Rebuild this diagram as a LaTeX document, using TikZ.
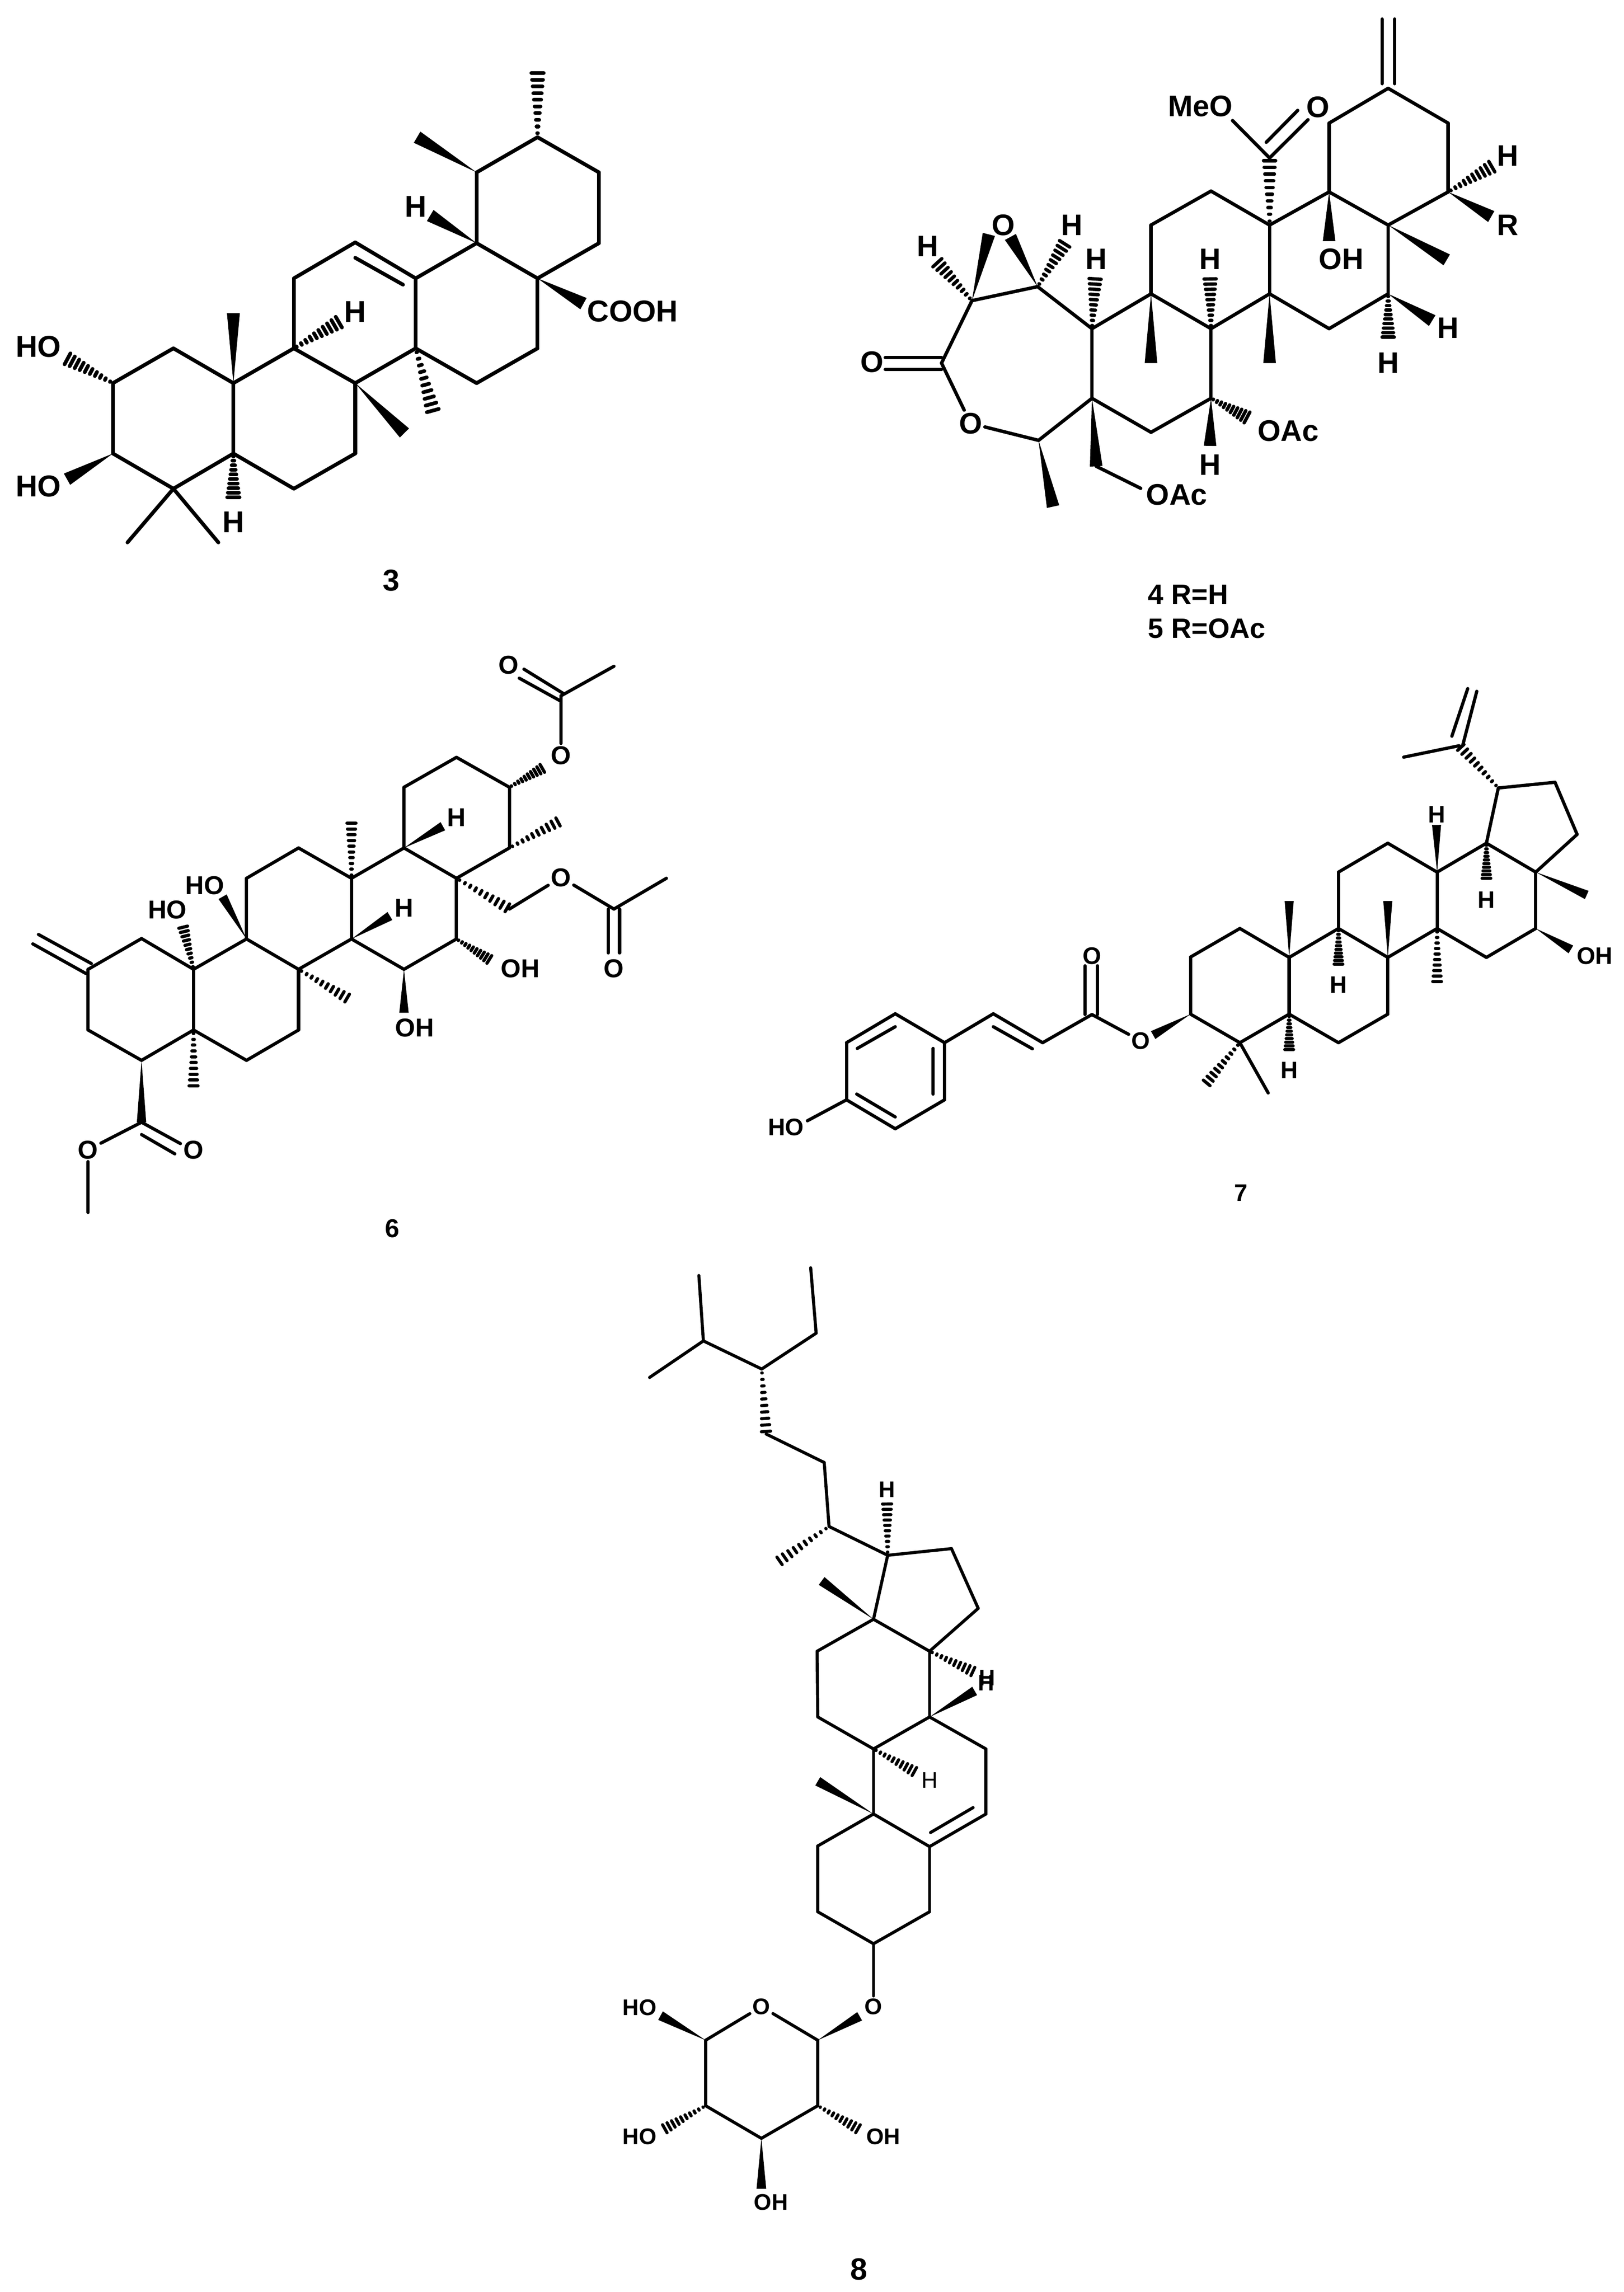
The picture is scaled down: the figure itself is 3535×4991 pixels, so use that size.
\documentclass[tikz,border=0pt]{standalone}
\usepackage{fontspec}
\setmainfont{Liberation Sans}
\usetikzlibrary{calc}
\tikzset{
  wedgew/.store in=\wedgew, wedgew=4pt,
  bond/.style={line cap=round, line join=round},
  wedgebond/.style={to path={-- ($(\tikztotarget)!\wedgew!90:(\tikztostart)$) -- ($(\tikztotarget)!\wedgew!-90:(\tikztostart)$) -- cycle}},
  hashbond/.style={line cap=round, to path={\foreach \hp in {0.06,0.16,...,0.97} {($(\tikztostart)!\hp!(\tikztotarget)!{\hp*\wedgew}!90:(\tikztotarget)$) -- ($(\tikztostart)!\hp!(\tikztotarget)!{\hp*\wedgew}!-90:(\tikztotarget)$)}}},
  atomlabel/.style={inner sep=1.5pt, font=\bfseries},
  atomthree/.style={atomlabel, font=\fontsize{18.7}{20}\selectfont\bfseries},
  atomfour/.style={atomlabel, font=\fontsize{18.4}{20}\selectfont\bfseries},
  atomsix/.style={atomlabel, font=\fontsize{16}{18}\selectfont\bfseries},
  atomseven/.style={atomlabel, font=\fontsize{14.8}{16}\selectfont\bfseries},
  atomeight/.style={atomlabel, font=\fontsize{14}{16}\selectfont\bfseries}
}
\begin{document}
\begin{tikzpicture}[x=0.01cm, y=-0.01cm]
  \useasboundingbox (0,0) rectangle (3535,4991);

  % compound 3
  \begin{scope}[xscale=1.0204, yscale=0.8610]
    \foreach \n/\x/\y in {a1/1147/347, a2/1278/436, a3/1278/615, a4/1147/704, a5/1017/615, a6/1017/436,
      a7/1147/881, a8/1017/969, a9/887/881, a10/887/704, a11/758/613, a12/627/704, a13/627/881,
      a14/758/969, a15/758/1147, a16/627/1236, a17/498/1147, a18/498/969, a19/370/881, a20/241/969,
      a21/241/1147, a22/370/1236, a23/272/1372, a24/466/1372, a25/758/652, a26/860/720,
      t1/890/347, t2/918/545, t3/1245/768, t4/498/792, t5/863/1095, t6/143/1212,
      t7/1147/178, t8/727/812, t9/925/1045, t10/498/1262, t11/140/905}
      \coordinate (\n) at (\x,\y);
    \node[atomthree] (ah1) at (887,522) {H};
    \node[atomthree] (ah2) at (758,788) {H};
    \node[atomthree] (acooh) at (1350,787) {COOH};
    \node[atomthree] (aho1) at (82,877) {HO};
    \node[atomthree] (aho2) at (82,1230) {HO};
    \node[atomthree] (ah3) at (498,1320) {H};
    \node[atomthree] (atitle) at (835,1468) {3};
  \end{scope}
  \begin{scope}[line width=2.3pt, wedgew=4pt]
    \foreach \a/\b in {a1/a2, a2/a3, a3/a4, a4/a5, a5/a6, a6/a1, a4/a7, a7/a8, a8/a9, a9/a10, a10/a5,
      a10/a11, a25/a26, a11/a12, a12/a13, a13/a14, a14/a9, a14/a15, a15/a16, a16/a17, a17/a18, a18/a13,
      a18/a19, a19/a20, a20/a21, a21/a22, a22/a17, a22/a23, a22/a24}
      \draw[bond] (\a) -- (\b);
    \foreach \a/\b in {a6/t1, a5/t2, a4/t3, a18/t4, a14/t5, a21/t6}
      \fill[wedgebond] (\a) to (\b);
    \foreach \a/\b in {a1/t7, a13/t8, a9/t9, a17/t10, a20/t11}
      \draw[hashbond] (\a) to (\b);
  \end{scope}

  % compound 4 and 5
  \begin{scope}[shift={(1800,0)}, xscale=1.0204, yscale=0.9247]
    \foreach \n/\x/\y in {b1/1198/208, b2/1326/290, b3/1326/452, b4/1198/530, b5/1072/452, b6/1072/290,
      b7/1198/692, b8/1072/774, b9/945/692, b10/945/530, b11/820/450, b12/692/530, b13/692/692,
      b14/820/774, b15/820/938, b16/692/1018, b17/566/938, b18/566/774, b19/450/675, b20/310/708,
      b21/245/855, b22/452/1037, b23/945/372, b24/575/1098, b25/1185/45, b26/1185/197, b27/1212/45,
      b28/1212/197, b29/125/842, b30/245/842, b31/125/870, b32/245/870, b33/1027/282, b34/938/335,
      b35/1005/260, b36/866/284, b37/670/1150,
      u1/346/552, u2/392/558, u3/233/615, u4/510/570, u5/573/652, u6/818/652, u7/692/855, u8/945/855,
      u9/1072/568, u10/1323/612, u11/1423/390, u12/1418/510, u13/1292/755, u14/1198/798, u15/900/985,
      u16/818/1050, u17/483/1193}
      \coordinate (\n) at (\x,\y);
    \node[atomfour] (bo1) at (377,530) {O};
    \node[atomfour] (bo2) at (97,852) {O};
    \node[atomfour] (bo3) at (307,997) {O};
    \node[atomfour] (bo4) at (1048,252) {O};
    \node[atomfour] (bmeo) at (797,250) {MeO};
    \node[atomfour] (boh) at (1098,610) {OH};
    \node[atomfour] (bh1) at (215,580) {H};
    \node[atomfour] (bh2) at (523,530) {H};
    \node[atomfour] (bh3) at (575,610) {H};
    \node[atomfour] (bh4) at (818,610) {H};
    \node[atomfour] (bh5) at (1453,367) {H};
    \node[atomfour] (br) at (1453,530) {R};
    \node[atomfour] (bh6) at (1326,772) {H};
    \node[atomfour] (bh7) at (1198,855) {H};
    \node[atomfour] (bh8) at (818,1095) {H};
    \node[atomfour] (boac1) at (985,1015) {OAc};
    \node[atomfour] (boac2) at (747,1165) {OAc};
    \node[atomfour, font=\fontsize{17.3}{19}\selectfont\bfseries, anchor=west] (btitle1) at (680,1400) {4 R=H};
    \node[atomfour, font=\fontsize{17.3}{19}\selectfont\bfseries, anchor=west] (btitle2) at (680,1480) {5 R=OAc};
  \end{scope}
  \begin{scope}[line width=2.1pt, wedgew=3.9pt]
    \foreach \a/\b in {b1/b2, b2/b3, b3/b4, b4/b5, b5/b6, b6/b1, b4/b7, b7/b8, b8/b9, b9/b10, b10/b5,
      b10/b11, b11/b12, b12/b13, b13/b14, b14/b9, b14/b15, b15/b16, b16/b17, b17/b18, b18/b13,
      b18/b19, b19/b20, b20/b21, b21/bo3, bo3/b22, b22/b17, b25/b26, b27/b28, b29/b30, b31/b32,
      b23/b33, b34/b35, b23/b36, b24/b37}
      \draw[bond] (\a) -- (\b);
    \foreach \a/\b in {b20/u1, b19/u2, b13/u7, b9/u8, b5/u9, b4/u10, b3/u12, b7/u13, b15/u16, b17/b24, b22/u17}
      \fill[wedgebond] (\a) to (\b);
    \foreach \a/\b in {b20/u3, b19/u4, b18/u5, b14/u6, b10/b23, b3/u11, b7/u14, b15/u15}
      \draw[hashbond] (\a) to (\b);
  \end{scope}

  % compound 6
  \begin{scope}[shift={(0,1350)}, xscale=1.0204, yscale=0.8929]
    \foreach \n/\x/\y in {c1/188/852, c2/302/777, c3/413/852, c4/413/1000, c5/302/1074, c6/188/1000,
      c7/526/778, c8/637/852, c9/637/1000, c10/526/1074, c11/526/630, c12/637/556, c13/750/630,
      c14/750/778, c15/862/556, c16/974/630, c17/974/778, c18/862/852, c19/862/408, c20/974/335,
      c21/1087/408, c22/1087/556, c23/1197/185, c24/1087/705, c25/1310/705, c26/302/1225,
      c27/70/790, c28/183/862, c29/82/767, c30/195/838, c31/1118/120, c32/1203/180, c33/1108/142,
      c34/1195/197, c35/1310/113, c36/1422/630, c37/1298/705, c38/1298/812, c39/1322/705, c40/1322/812,
      c41/188/1445, c42/385/1277, c43/302/1255, c44/373/1302,
      v1/1160/360, v2/1195/490, v3/945/503, v4/750/490, v5/832/722, v6/1047/830, v7/862/958,
      v8/745/925, v9/475/675, v10/390/745, v11/413/1142}
      \coordinate (\n) at (\x,\y);
    \node[atomsix] (co1) at (1085,110) {O};
    \node[atomsix] (co2) at (1197,330) {O};
    \node[atomsix] (co3) at (1197,628) {O};
    \node[atomsix] (co4) at (1310,850) {O};
    \node[atomsix] (co5) at (188,1292) {O};
    \node[atomsix] (co6) at (413,1292) {O};
    \node[atomsix] (ch1) at (974,482) {H};
    \node[atomsix] (ch2) at (862,702) {H};
    \node[atomsix] (coh1) at (1110,850) {OH};
    \node[atomsix] (coh2) at (885,995) {OH};
    \node[atomsix] (cho1) at (437,648) {HO};
    \node[atomsix] (cho2) at (357,707) {HO};
    \node[atomsix] (ctitle) at (837,1484) {6};
  \end{scope}
  \begin{scope}[line width=2pt, wedgew=2.9pt]
    \foreach \a/\b in {c1/c2, c2/c3, c3/c4, c4/c5, c5/c6, c6/c1, c3/c7, c7/c8, c8/c9, c9/c10, c10/c4,
      c7/c11, c11/c12, c12/c13, c13/c14, c14/c8, c13/c15, c15/c16, c16/c17, c17/c18, c18/c14,
      c15/c19, c19/c20, c20/c21, c21/c22, c22/c16, c27/c28, c29/c30, c23/co2, c31/c32, c33/c34, c23/c35,
      c24/co3, co3/c25, c25/c36, c37/c38, c39/c40, c26/co5, co5/c41, c26/c42, c43/c44}
      \draw[bond] (\a) -- (\b);
    \foreach \a/\b in {c15/v3, c14/v5, c18/v7, c7/v9, c5/c26}
      \fill[wedgebond] (\a) to (\b);
    \foreach \a/\b in {c21/v1, c22/v2, c13/v4, c16/c24, c17/v6, c8/v8, c3/v10, c4/v11}
      \draw[hashbond] (\a) to (\b);
  \end{scope}

  % compound 7
  \begin{scope}[shift={(1600,1400)}, xscale=1.2341, yscale=0.8291]
    \foreach \n/\x/\y in {d1/370/1050, d2/283/974, d3/197/1050, d4/197/1200, d5/283/1276, d6/370/1200,
      d7/456/974, d8/543/1050, d9/630/976, d10/804/975, d11/804/825, d12/891/750, d13/978/826,
      d14/978/975, d15/891/1050, d16/1065/750, d17/1152/826, d18/1152/975, d19/1065/1050, d20/1065/602,
      d21/1152/526, d22/1239/602, d23/1239/750, d24/1326/526, d25/1413/602, d26/1413/750, d27/1326/826,
      d28/1347/381, d29/1447/366, d30/1486/503, d31/1278/270, d32/216/1065, d33/283/1008, d34/215/1185,
      d35/283/1245, d36/350/1065, d37/350/1185, d38/128/1255, d39/456/1008, d40/525/1066, d41/618/976,
      d42/618/848, d43/640/976, d44/640/848, d45/1265/245, d46/1293/120, d47/1284/270, d48/1309/127,
      d49/1180/300, d50/941/1182,
      w1/738/1030, w2/1503/662, w3/1475/805, w4/1238/478, w5/1326/622, w6/978/678, w7/1152/678,
      w8/1065/848, w9/1239/895, w10/978/1072, w11/830/1160}
      \coordinate (\n) at (\x,\y);
    \node[atomseven] (dho) at (90,1272) {HO};
    \node[atomseven] (do1) at (630,822) {O};
    \node[atomseven] (do2) at (716,1045) {O};
    \node[atomseven] (doh) at (1517,822) {OH};
    \node[atomseven] (dh1) at (1238,450) {H};
    \node[atomseven] (dh2) at (1326,675) {H};
    \node[atomseven] (dh3) at (1065,898) {H};
    \node[atomseven] (dh4) at (978,1122) {H};
    \node[atomseven] (dtitle) at (893,1445) {7};
  \end{scope}
  \begin{scope}[line width=2pt, wedgew=2.8pt]
    \foreach \a/\b in {d1/d2, d2/d3, d3/d4, d4/d5, d5/d6, d6/d1, d32/d33, d34/d35, d36/d37, d38/d4,
      d1/d7, d7/d8, d39/d40, d8/d9, d41/d42, d43/d44, d9/do2, d10/d11, d11/d12, d12/d13, d13/d14,
      d14/d15, d15/d10, d13/d16, d16/d17, d17/d18, d18/d19, d19/d14, d16/d20, d20/d21, d21/d22,
      d22/d23, d23/d17, d22/d24, d24/d25, d25/d26, d26/d27, d27/d23, d24/d28, d28/d29, d29/d30,
      d30/d25, d45/d46, d47/d48, d31/d49, d15/d50}
      \draw[bond] (\a) -- (\b);
    \foreach \a/\b in {d10/w1, d25/w2, d26/w3, d22/w4, d13/w6, d17/w7}
      \fill[wedgebond] (\a) to (\b);
    \foreach \a/\b in {d28/d31, d24/w5, d16/w8, d23/w9, d14/w10, d15/w11}
      \draw[hashbond] (\a) to (\b);
  \end{scope}

  % compound 8
  \begin{scope}[shift={(1300,2750)}, xscale=0.7015, yscale=0.7653]
    \foreach \n/\x/\y in {e1/316/36, e2/330/222, e3/163/326, e4/511/302, e5/680/200, e6/663/14,
      e7/525/487, e8/705/568, e9/720/750, e10/902/832, e11/1100/813, e12/1183/983, e13/1032/1105,
      e14/858/1014, e15/683/1105, e16/685/1292, e17/858/1383, e18/1032/1292, e19/1207/1383,
      z1/560/852, z2/900/680, z3/697/905, z4/1172/1165, z5/1172/1218, z6/990/1450, z7/685/1475}
      \coordinate (\n) at (\x,\y);
    \node[atomeight] (eh1) at (900,645) {H};
    \node[atomeight] (eh2) at (1210,1180) {H};
    \node[atomeight] (eh3) at (1208,1195) {H};
    \node[atomeight, font=\fontsize{14}{16}\selectfont] (eh4) at (1032,1472) {H};
  \end{scope}
  \begin{scope}[shift={(1300,3900)}, xscale=0.7015, yscale=0.6958]
    \foreach \n/\x/\y in {e20/858/72, e21/1207/72, e22/1032/174, e23/1032/378, e24/858/478, e25/685/378,
      e26/685/172, e27/685/780, e28/337/780, e29/337/985, e30/510/1087, e31/685/985, e32/1035/130, e33/1167/52,
      z8/815/705, z9/197/703, z10/205/1060, z11/815/1060, z12/510/1245}
      \coordinate (\n) at (\x,\y);
    \node[atomeight] (eo1) at (858,675) {O};
    \node[atomeight] (eo2) at (510,675) {O};
    \node[atomeight] (eho1) at (132,677) {HO};
    \node[atomeight] (eho2) at (132,1082) {HO};
    \node[atomeight] (eoh1) at (888,1082) {OH};
    \node[atomeight] (eoh2) at (540,1287) {OH};
    \node[atomeight, font=\fontsize{19}{21}\selectfont\bfseries] (etitle) at (813,1497) {8};
  \end{scope}
  \begin{scope}[line width=1.9pt, wedgew=3pt]
    \foreach \a/\b in {e1/e2, e2/e3, e2/e4, e4/e5, e5/e6, e7/e8, e8/e9, e9/e10, e10/e11, e11/e12, e12/e13,
      e13/e14, e14/e10, e14/e15, e15/e16, e16/e17, e17/e18, e18/e13, e18/e19, e19/e21, e17/e20, e21/e22,
      e32/e33, e20/e22, e22/e23, e23/e24, e24/e25, e25/e26, e26/e20, e24/eo1, e27/eo2, eo2/e28, e28/e29,
      e29/e30, e30/e31, e31/e27}
      \draw[bond] (\a) -- (\b);
    \foreach \a/\b in {e14/z3, e18/z5, e20/z7, e27/z8, e28/z9, e30/z12}
      \fill[wedgebond] (\a) to (\b);
    \foreach \a/\b in {e4/e7, e9/z1, e10/z2, e13/z4, e17/z6, e29/z10, e31/z11}
      \draw[hashbond] (\a) to (\b);
  \end{scope}
\end{tikzpicture}
\end{document}
